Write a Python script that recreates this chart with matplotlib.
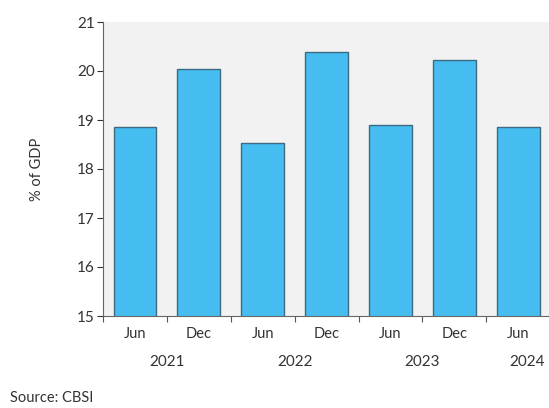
import matplotlib
matplotlib.use("Agg")
import matplotlib.pyplot as plt
import numpy as np

plt.rcParams['font.family'] = ['Lato', 'DejaVu Sans']

# data
months = ["Jun", "Dec", "Jun", "Dec", "Jun", "Dec", "Jun"]
years = ["2021", "2022", "2023", "2024"]
year_pos = [0.5, 2.5, 4.5, 6.13]
values = [18.85, 20.05, 18.53, 20.38, 18.9, 20.22, 18.86]

fig = plt.figure(figsize=(5.49, 4.08), dpi=100)
ax = fig.add_axes([103 / 549, 92 / 408, 446 / 549, 294 / 408])
ax.set_facecolor('#f2f2f2')

x = np.arange(len(values))
ax.bar(x, values, width=0.67, color='#45bdf0', edgecolor='#3d6a80', linewidth=1.0,
       bottom=0)

ax.set_ylim(15, 21)
ax.set_xlim(-0.5, 6.48)
ax.set_yticks(range(15, 22))
ax.tick_params(axis='y', labelsize=11, colors='#333333', length=4, width=0.8,
               direction='out', pad=2)

ax.set_xticks(x)
ax.set_xticklabels(months)
ax.tick_params(axis='x', which='major', length=0, labelsize=10.5, colors='#333333', pad=8)
ax.set_xticks(np.arange(-0.5, 6.5, 1.0), minor=True)
ax.tick_params(axis='x', which='minor', length=4, width=0.8, color='#555555', direction='out')

for yr, p in zip(years, year_pos):
    ax.text(p, -0.155, yr, transform=ax.get_xaxis_transform(), ha='center', va='center',
            fontsize=11, color='#333333')

for s in ['top', 'right']:
    ax.spines[s].set_visible(False)
for s in ['left', 'bottom']:
    ax.spines[s].set_color('#666666')
    ax.spines[s].set_linewidth(0.8)

ax.set_ylabel("% of GDP", fontsize=10.5, color='#333333', labelpad=24)

fig.text(10 / 549, 1 - 398 / 408, "Source: CBSI", fontsize=10.5, color='#333333',
         ha='left', va='center')

fig.savefig("out.png", dpi=100)
